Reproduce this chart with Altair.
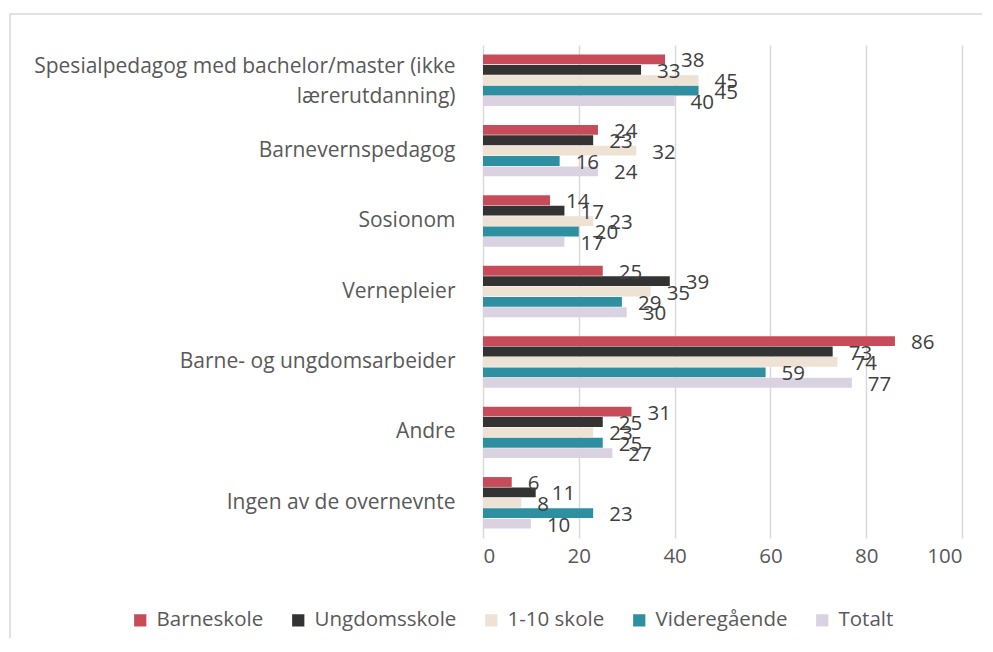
import altair as alt
import pandas as pd

categories = [
    "Spesialpedagog med bachelor/master (ikke|lærerutdanning)",
    "Barnevernspedagog",
    "Sosionom",
    "Vernepleier",
    "Barne- og ungdomsarbeider",
    "Andre",
    "Ingen av de overnevnte",
]
series = ["Barneskole", "Ungdomsskole", "1-10 skole", "Videregående", "Totalt"]
barneskole = [38, 24, 14, 25, 86, 31, 6]
ungdomsskole = [33, 23, 17, 39, 73, 25, 11]
skole_1_10 = [45, 32, 23, 35, 74, 23, 8]
videregaende = [45, 16, 20, 29, 59, 25, 23]
totalt = [40, 24, 17, 30, 77, 27, 10]
colors = ["#C84B5A", "#333333", "#EDE2D3", "#2E8FA0", "#DAD2E0"]
x_ticks = [0, 20, 40, 60, 80, 100]

values = [barneskole, ungdomsskole, skole_1_10, videregaende, totalt]
rows = []
for s, vals in zip(series, values):
    for c, v in zip(categories, vals):
        rows.append({"Kategori": c, "Serie": s, "Verdi": v})
df = pd.DataFrame(rows)

FONT = "Open Sans"
FS = 20.5

y_enc = alt.Y(
    "Kategori:N",
    sort=categories,
    title=None,
    scale=alt.Scale(paddingInner=0.27, paddingOuter=0.135),
    axis=alt.Axis(
        labelExpr="split(datum.label, '|')",
        labelFontSize=21,
        labelColor="#595959",
        labelFont=FONT,
        labelPadding=28,
        labelLimit=600,
        labelOffset={"condition": {"test": "indexof(datum.value, '|') >= 0", "value": -13}, "value": 0},
        ticks=False,
        domain=False,
        grid=False,
        labelLineHeight=30,
    ),
)
yoff = alt.YOffset("Serie:N", sort=series, scale=alt.Scale(paddingInner=0.05))

bars = alt.Chart(df).mark_bar().encode(
    x=alt.X(
        "Verdi:Q",
        title=None,
        scale=alt.Scale(domain=[0, 100], nice=False),
        axis=alt.Axis(
            values=x_ticks,
            labelFontSize=FS,
            labelColor="#595959",
            labelFont=FONT,
            labelPadding=8,
            ticks=False,
            domain=False,
            grid=True,
            gridColor="#d9d9d9",
            gridWidth=1.5,
        ),
    ),
    y=y_enc,
    yOffset=yoff,
    color=alt.Color(
        "Serie:N",
        sort=series,
        scale=alt.Scale(domain=series, range=colors),
        legend=alt.Legend(
            title=None,
            orient="none",
            direction="horizontal",
            legendX=-353,
            legendY=565,
            symbolType="square",
            symbolSize=150,
            symbolStrokeWidth=0,
            labelFontSize=FS,
            labelColor="#595959",
            labelFont=FONT,
            columnPadding=24,
            labelOffset=6,
        ),
    ),
)

labels = alt.Chart(df).mark_text(
    align="left", baseline="middle", dx=16, dy=2, fontSize=FS, color="#404040", font=FONT
).encode(
    x="Verdi:Q",
    y=alt.Y("Kategori:N", sort=categories),
    yOffset=alt.YOffset("Serie:N", sort=series),
    text="Verdi:Q",
)

border = alt.Chart(alt.Data(values=[{"a": 1}])).mark_rect(
    fill=None, stroke="#d9d9d9", strokeWidth=1.5
).encode(
    x=alt.value(-473), x2=alt.value(700), y=alt.value(-31), y2=alt.value(800)
)

chart = alt.layer(border, bars, labels).properties(
    width=479,
    height=493,
    autosize=alt.AutoSizeParams(type="none"),
    padding={"left": 475, "top": 37, "right": 20, "bottom": 100},
).configure_view(stroke=None)

chart.save("out.html", embed_options={"renderer": "svg", "actions": False})
